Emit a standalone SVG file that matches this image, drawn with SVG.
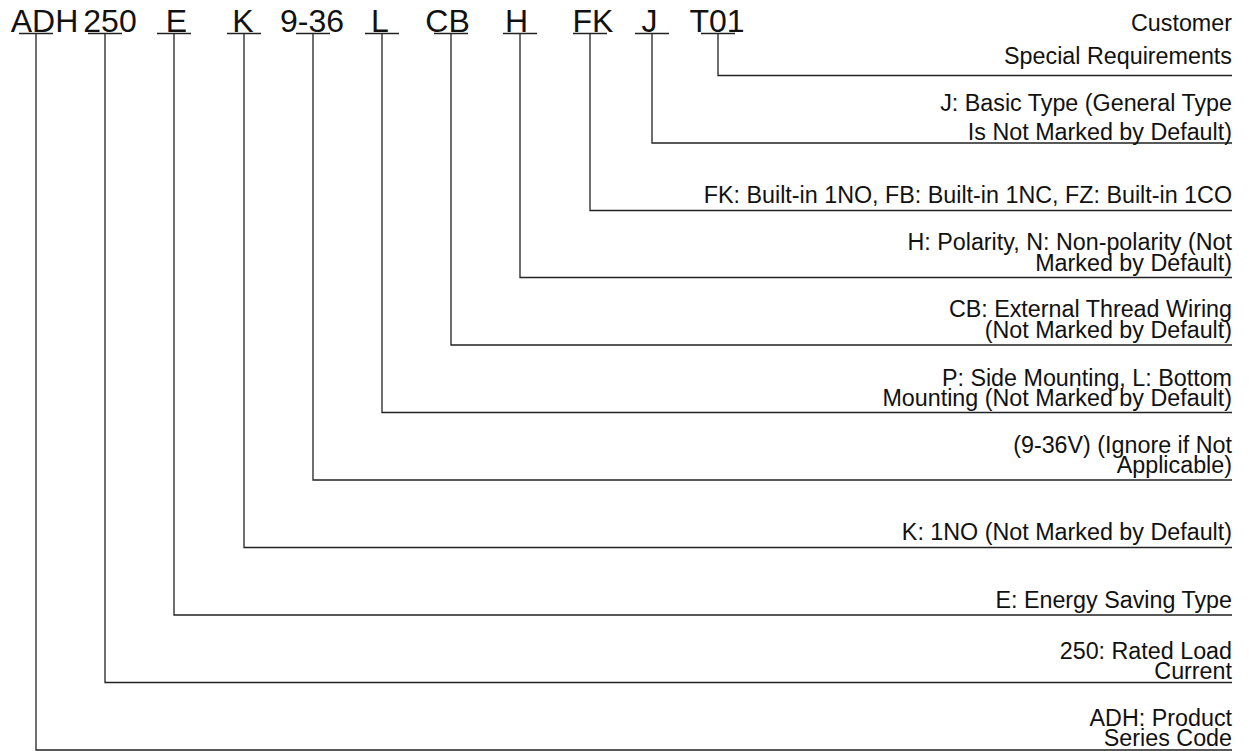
<svg xmlns="http://www.w3.org/2000/svg" width="1249" height="751" viewBox="0 0 1249 751">
<style>
.code{font-family:"Liberation Sans",Arial,sans-serif;font-size:32px;fill:#111;text-anchor:middle}
.lbl{font-family:"Liberation Sans",Arial,sans-serif;font-size:23.3px;fill:#111;text-anchor:end}
.ln{fill:none;stroke:#222;stroke-width:1.3}
</style>
<rect width="1249" height="751" fill="#fff"/>
<g id="code">
<text class="code" x="44.5" y="32">ADH</text>
<text class="code" x="110" y="32">250</text>
<text class="code" x="176.5" y="32">E</text>
<text class="code" x="243" y="32">K</text>
<text class="code" x="312" y="32">9-36</text>
<text class="code" x="380" y="32">L</text>
<text class="code" x="447.5" y="32">CB</text>
<text class="code" x="516.5" y="32">H</text>
<text class="code" x="593" y="32">FK</text>
<text class="code" x="649.5" y="32">J</text>
<text class="code" x="717" y="32">T01</text>
</g>
<g id="connectors">
<path class="ln" d="M19,33.5H53M36,33.5V750H1232"/>
<path class="ln" d="M88,33.5H122M105,33.5V682.5H1232"/>
<path class="ln" d="M157,33.5H191M174,33.5V615H1232"/>
<path class="ln" d="M227,33.5H261M244,33.5V547.5H1232"/>
<path class="ln" d="M296,33.5H330M313,33.5V480H1232"/>
<path class="ln" d="M365,33.5H399M382,33.5V412.5H1232"/>
<path class="ln" d="M434,33.5H468M451,33.5V345H1232"/>
<path class="ln" d="M503,33.5H537M520,33.5V277.5H1232"/>
<path class="ln" d="M573,33.5H607M590,33.5V210.5H1232"/>
<path class="ln" d="M635,33.5H669M652,33.5V143H1232"/>
<path class="ln" d="M701,33.5H735M718,33.5V75.5H1232"/>
</g>
<g id="label-T01">
<text class="lbl" x="1232" y="31">Customer</text>
<text class="lbl" x="1232" y="64">Special Requirements</text>
</g>
<g id="label-J">
<text class="lbl" x="1232" y="111">J: Basic Type (General Type</text>
<text class="lbl" x="1232" y="140">Is Not Marked by Default)</text>
</g>
<g id="label-FK">
<text class="lbl" x="1232" y="203">FK: Built-in 1NO, FB: Built-in 1NC, FZ: Built-in 1CO</text>
</g>
<g id="label-H">
<text class="lbl" x="1232" y="250">H: Polarity, N: Non-polarity (Not</text>
<text class="lbl" x="1232" y="271">Marked by Default)</text>
</g>
<g id="label-CB">
<text class="lbl" x="1232" y="317">CB: External Thread Wiring</text>
<text class="lbl" x="1232" y="338">(Not Marked by Default)</text>
</g>
<g id="label-L">
<text class="lbl" x="1232" y="386">P: Side Mounting, L: Bottom</text>
<text class="lbl" x="1232" y="406">Mounting (Not Marked by Default)</text>
</g>
<g id="label-936">
<text class="lbl" x="1232" y="453">(9-36V) (Ignore if Not</text>
<text class="lbl" x="1232" y="473">Applicable)</text>
</g>
<g id="label-K">
<text class="lbl" x="1232" y="540">K: 1NO (Not Marked by Default)</text>
</g>
<g id="label-E">
<text class="lbl" x="1232" y="608">E: Energy Saving Type</text>
</g>
<g id="label-250">
<text class="lbl" x="1232" y="659">250: Rated Load</text>
<text class="lbl" x="1232" y="679">Current</text>
</g>
<g id="label-ADH">
<text class="lbl" x="1232" y="726">ADH: Product</text>
<text class="lbl" x="1232" y="746">Series Code</text>
</g>
</svg>
